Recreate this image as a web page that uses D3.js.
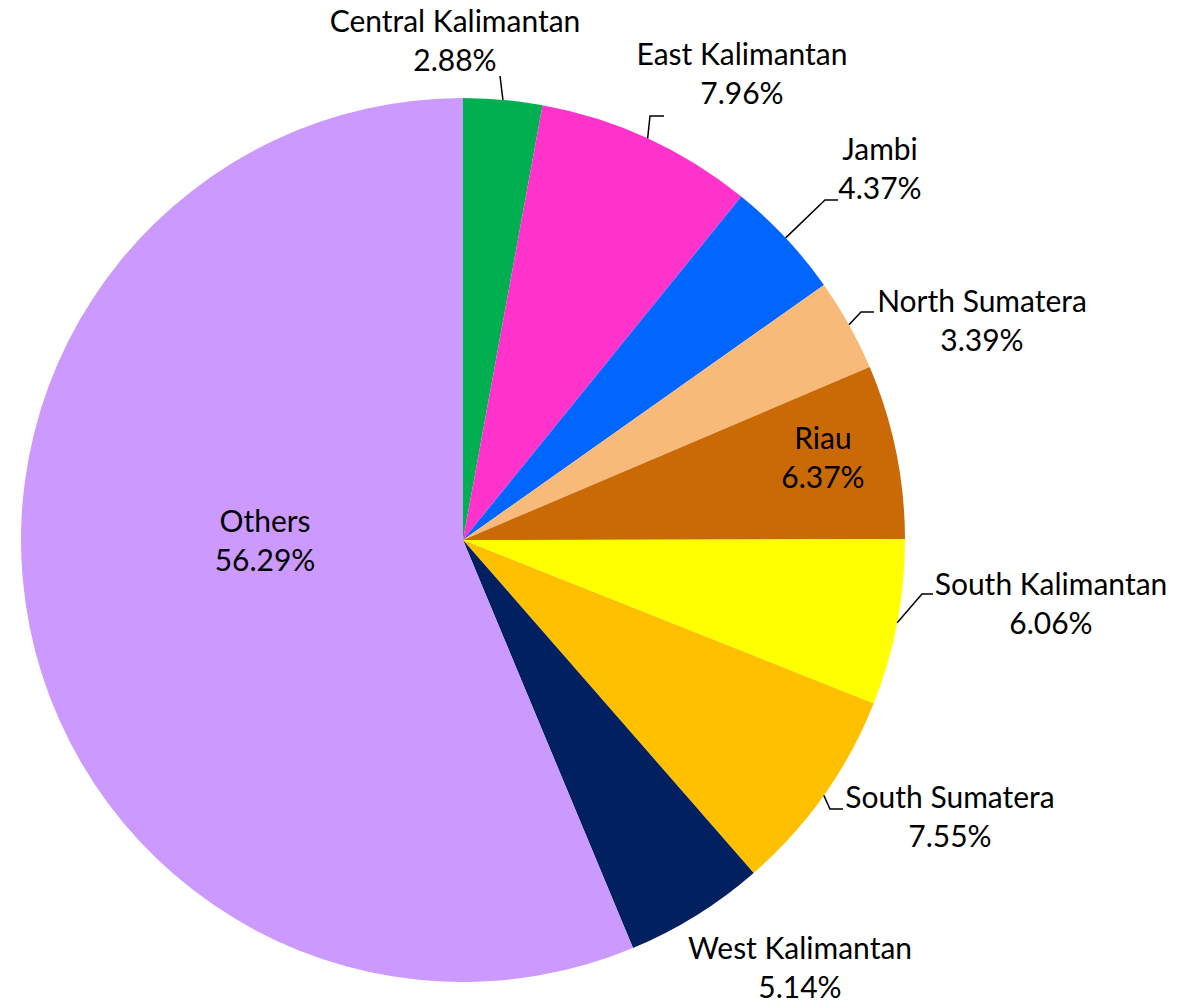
<!DOCTYPE html>
<html><head><meta charset="utf-8">
<script src="https://cdn.jsdelivr.net/npm/d3@7"></script>
<style>html,body{margin:0;padding:0;background:#fff}</style>
</head><body>
<svg id="chart" width="1191" height="1004"></svg>
<script>
const categories = ["Central Kalimantan","East Kalimantan","Jambi","North Sumatera","Riau","South Kalimantan","South Sumatera","West Kalimantan","Others"];
const values = [2.88,7.96,4.37,3.39,6.37,6.06,7.55,5.14,56.29];
const colors = ["#00B050","#FF33CC","#0066FF","#F8BA78","#C96A06","#FFFF00","#FFC000","#002060","#CC99FF"];

// label layout: center x, first baseline y, leader elbow and end
const layout = [
  {x:455, y:32, leader:true, elbow:null, end:[500,76]},
  {x:742, y:65, leader:true, elbow:[650,116], end:[664,116]},
  {x:880, y:160, leader:true, elbow:[825,200], end:[838,200]},
  {x:982, y:312, leader:true, elbow:[861,312], end:[874,312]},
  {x:823, y:449, leader:false},
  {x:1051, y:595, leader:true, elbow:[922,594], end:[933,594]},
  {x:950, y:808, leader:true, elbow:[830,809], end:[843,809]},
  {x:800, y:959, leader:false},
  {x:265, y:532, leader:false}
];

const svg = d3.select("#chart");
const cx = 463, cy = 540, R = 442;
const g = svg.append("g").attr("transform",`translate(${cx},${cy})`);
const data = categories.map((c,i)=>({name:c, value:values[i], color:colors[i], lay:layout[i]}));
const pie = d3.pie().value(d=>d.value).sort(null);
const arcs = pie(data);
const arc = d3.arc().innerRadius(0).outerRadius(R);

g.selectAll("path.slice").data(arcs).join("path")
  .attr("class","slice").attr("d",arc).attr("fill",d=>d.data.color);

// leader lines
arcs.forEach(a=>{
  const L = a.data.lay;
  if (!L.leader) return;
  const ang = (a.startAngle + a.endAngle)/2;
  const p0 = [R*Math.sin(ang), -R*Math.cos(ang)];
  const pts = [p0];
  if (L.elbow) pts.push([L.elbow[0]-cx, L.elbow[1]-cy]);
  pts.push([L.end[0]-cx, L.end[1]-cy]);
  g.append("path").attr("d", d3.line()(pts)).attr("fill","none")
    .attr("stroke","#000").attr("stroke-width",1.5);
});

// labels
const lbl = svg.append("g").attr("font-family","Lato, 'Open Sans', sans-serif")
  .attr("font-size",30).attr("fill","#000").attr("text-anchor","middle");
arcs.forEach(a=>{
  const L = a.data.lay;
  const t = lbl.append("text").attr("x",L.x).attr("y",L.y);
  t.append("tspan").attr("x",L.x).attr("dy",0).text(a.data.name);
  t.append("tspan").attr("x",L.x).attr("dy",39).text(a.data.value.toFixed(2)+"%");
});
</script>
</body></html>
